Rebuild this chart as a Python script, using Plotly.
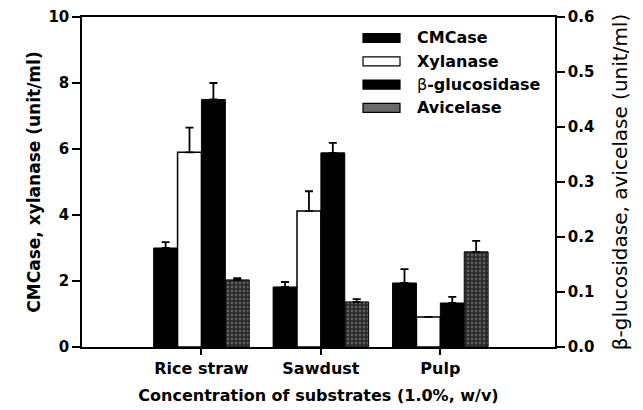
import plotly.graph_objects as go

substrates = ["Rice straw", "Sawdust", "Pulp"]
cmcase = [3.0, 1.82, 1.94]
cmcase_err = [0.18, 0.15, 0.42]
xylanase = [5.9, 4.12, 0.91]
xylanase_err = [0.75, 0.6, 0.0]
bglu = [0.45, 0.353, 0.08]
bglu_err = [0.03, 0.018, 0.011]
avicelase = [0.122, 0.082, 0.173]
avicelase_err = [0.003, 0.005, 0.02]

FONT = "DejaVu Sans, sans-serif"
FS = 16

def err(vals):
    return dict(type="data", array=vals, arrayminus=[0] * len(vals), symmetric=False,
                color="black", thickness=1.8, width=4)

fig = go.Figure()
fig.add_trace(go.Bar(x=substrates, y=cmcase, name="CMCase", width=0.2, offset=-0.4,
                     marker=dict(color="black", line=dict(color="black", width=1)),
                     error_y=err(cmcase_err), yaxis="y"))
fig.add_trace(go.Bar(x=substrates, y=xylanase, name="Xylanase", width=0.2, offset=-0.2,
                     marker=dict(color="white", line=dict(color="black", width=1.5)),
                     error_y=err(xylanase_err), yaxis="y"))
fig.add_trace(go.Bar(x=substrates, y=bglu, name="β-glucosidase", width=0.2, offset=0.0,
                     marker=dict(color="black", line=dict(color="black", width=1)),
                     error_y=err(bglu_err), yaxis="y2"))
fig.add_trace(go.Bar(x=substrates, y=avicelase, name="Avicelase", width=0.2, offset=0.2,
                     marker=dict(color="#2e2e2e", line=dict(color="black", width=1),
                                 pattern=dict(shape=".", fgcolor="#a0a0a0", bgcolor="#2e2e2e",
                                              size=4, solidity=0.25)),
                     error_y=err(avicelase_err), yaxis="y2"))

# page has an 8px body margin, so the figure is sized/offset to compensate
FW, FH = 635, 402
ML, MT, MR, MB = 74, 9, 88, 63

fig.update_layout(
    width=FW, height=FH,
    margin=dict(l=ML, r=MR, t=MT, b=MB),
    paper_bgcolor="white", plot_bgcolor="white",
    showlegend=False,
    font=dict(family=FONT, size=FS, color="black"),
    xaxis=dict(
        range=[-1, 2.96], showline=True, linecolor="black", linewidth=1.5, mirror=True,
        ticks="outside", ticklen=6, tickwidth=1.5, tickcolor="black",
        tickfont=dict(family=FONT, size=FS, weight="bold"),
        title=dict(text="Concentration of substrates (1.0%, w/v)",
                   font=dict(family=FONT, size=FS, weight="bold"), standoff=13),
        showgrid=False, zeroline=False, automargin=False,
    ),
    yaxis=dict(
        range=[0, 10], dtick=2, showline=True, linecolor="black", linewidth=1.5,
        ticks="outside", ticklen=8, tickwidth=1.5, tickcolor="black",
        tickfont=dict(family=FONT, size=15, weight="bold"),
        title=dict(text="CMCase, xylanase (unit/ml)",
                   font=dict(family=FONT, size=17, weight="bold"), standoff=3),
        showgrid=False, zeroline=False, automargin=False,
    ),
    yaxis2=dict(
        range=[0, 0.6], dtick=0.1, tickformat=".1f", overlaying="y", side="right",
        showline=True, linecolor="black", linewidth=1.5,
        ticks="outside", ticklen=8, tickwidth=1.5, tickcolor="black",
        tickfont=dict(family=FONT, size=15, weight="bold"),
        title=dict(text="β-glucosidase, avicelase (unit/ml)",
                   font=dict(family=FONT, size=20), standoff=20),
        showgrid=False, zeroline=False, automargin=False,
    ),
)

# custom legend (wide swatches), placed in paper coords relative to the plot area
legend_fill = ["black", "white", "black", "#6a6a6a"]
legend_labels = ["<b>CMCase</b>", "<b>Xylanase</b>", "β<b>-glucosidase</b>", "<b>Avicelase</b>"]
pw, ph = FW - ML - MR, FH - MT - MB
for i, (fill, lab) in enumerate(zip(legend_fill, legend_labels)):
    yc = 30 + i * 23.3
    x0 = (355 - ML) / pw
    x1 = (392 - ML) / pw
    y0 = 1 - (yc - 4.5 - MT) / ph
    y1 = 1 - (yc + 4.5 - MT) / ph
    fig.add_shape(type="rect", xref="paper", yref="paper", x0=x0, x1=x1, y0=y1, y1=y0,
                  fillcolor=fill, line=dict(color="black", width=1.2))
    fig.add_annotation(xref="paper", yref="paper", x=(407 - ML) / pw, y=1 - (yc - MT) / ph,
                       text=lab, showarrow=False, xanchor="left", yanchor="middle",
                       font=dict(family=FONT, size=FS, color="black"))

fig.write_html("out.html")
